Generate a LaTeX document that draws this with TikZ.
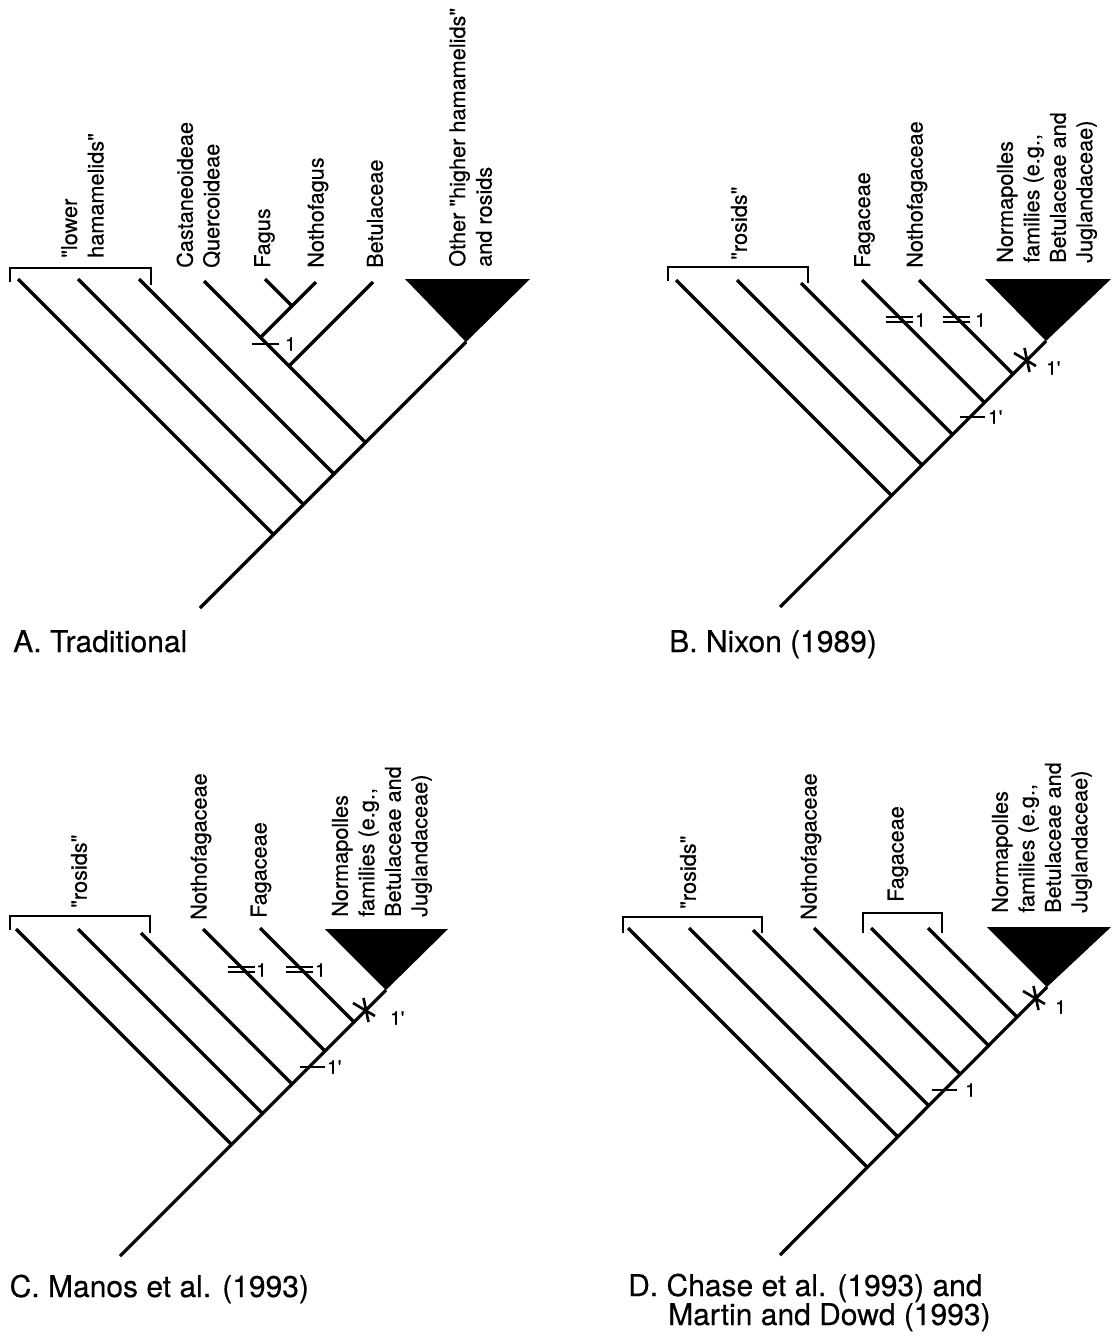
\documentclass[tikz,border=0pt]{standalone}
\usepackage{fontspec}
\setmainfont{TeX Gyre Heros}[Ligatures=TeXOff, FakeBold=0.35]
\newcommand\rsTax{\fontsize{21.7}{26.5}\selectfont}
\newcommand\rsNum{\fontsize{19}{21}\selectfont}
\newcommand\rsTitle{\fontsize{30}{34}\selectfont}
\begin{document}
\begin{tikzpicture}[x=1pt,y=-1pt,
  branch/.style={line width=3.2pt},
  brk/.style={line width=2.8pt},
  tickln/.style={line width=2.3pt},
  taxon/.style={rotate=90, anchor=west, inner sep=0pt, font=\rsTax, align=left},
  num/.style={anchor=west, inner sep=0pt, font=\rsNum},
  title/.style={anchor=base west, inner sep=0pt, font=\rsTitle},
  clade/.style={fill=black},
  asterisk/.pic={\draw[line width=2.6pt] (-13,-7) -- (9,6); \draw[line width=2.6pt] (-2.5,-12) -- (2.5,12);},
  dbar/.pic={\draw[line width=2.1pt] (-16,-2.6) -- (11,-2.6); \draw[line width=2.1pt] (-16,2.6) -- (11,2.6);}
]
\fill[white] (0,0) rectangle (1117,1336);
\useasboundingbox (0,0) rectangle (1117,1336);

% ================= Panel A =================
\coordinate (A-root) at (200,608);
\coordinate (A-apex) at (466,342);
\coordinate (A-t1) at (18,279);   \coordinate (A-j1) at (273.5,534.5);
\coordinate (A-t2) at (78,279);   \coordinate (A-j2) at (303.5,504.5);
\coordinate (A-t3) at (139,279);  \coordinate (A-j3) at (334,474);
\coordinate (A-tc) at (204,281);  \coordinate (A-jc) at (365.5,442.5);
\coordinate (A-tb) at (373,282);  \coordinate (A-jb) at (289,366);
\coordinate (A-tn) at (316,282);  \coordinate (A-jn) at (260.5,337.5);
\coordinate (A-tf) at (265,279);  \coordinate (A-jf) at (292,306);
\coordinate (A-tl) at (405,279);  \coordinate (A-tr) at (530,279);
\fill[clade] (A-tl) -- (A-tr) -- (A-apex) -- cycle;
\draw[branch] (A-root) -- (A-apex);
\draw[branch] (A-t1) -- (A-j1);
\draw[branch] (A-t2) -- (A-j2);
\draw[branch] (A-t3) -- (A-j3);
\draw[branch] (A-tc) -- (A-jc);
\draw[branch] (A-tb) -- (A-jb);
\draw[branch] (A-tn) -- (A-jn);
\draw[branch] (A-tf) -- (A-jf);
\coordinate (A-bl) at (10,282); \coordinate (A-br) at (151,285);
\draw[brk] (A-bl) -- (10,268) -- (151,268) -- (A-br);
\coordinate (A-tk) at (267,344);
\draw[tickln] ([xshift=-15pt]A-tk) -- ([xshift=12pt]A-tk);
\node[num] (A-n1) at (285,344) {1};
\node[taxon] (A-low) at (82.5,258) {"lower\\hamamelids"};
\node[taxon] (A-cas) at (198.5,268) {Castaneoideae\\Quercoideae};
\node[taxon] (A-fag) at (264.5,268) {Fagus};
\node[taxon] (A-not) at (318,268) {Nothofagus};
\node[taxon] (A-bet) at (375,268) {Betulaceae};
\node[taxon] (A-oth) at (470.5,267) {Other "higher hamamelids"\\and rosids};
\node[title] (A-title) at (13,652) {A. Traditional};

% ================= Panel B =================
\coordinate (B-root) at (780,607);
\coordinate (B-apex) at (1046,341);
\coordinate (B-t1) at (676,280);  \coordinate (B-j1) at (891.5,495.5);
\coordinate (B-t2) at (737,280);  \coordinate (B-j2) at (922,465);
\coordinate (B-t3) at (801,283);  \coordinate (B-j3) at (952.5,434.5);
\coordinate (B-tf) at (862,280);  \coordinate (B-jf) at (984.5,402.5);
\coordinate (B-tn) at (919,280);  \coordinate (B-jn) at (1013,374);
\coordinate (B-tl) at (985,279);  \coordinate (B-tr) at (1111,279);
\fill[clade] (B-tl) -- (B-tr) -- (B-apex) -- cycle;
\draw[branch] (B-root) -- (B-apex);
\draw[branch] (B-t1) -- (B-j1);
\draw[branch] (B-t2) -- (B-j2);
\draw[branch] (B-t3) -- (B-j3);
\draw[branch] (B-tf) -- (B-jf);
\draw[branch] (B-tn) -- (B-jn);
\coordinate (B-bl) at (668,281); \coordinate (B-br) at (808,283);
\draw[brk] (B-bl) -- (668,267) -- (808,267) -- (B-br);
\coordinate (B-df) at (901.5,319.5);
\coordinate (B-dn) at (958.5,319.5);
\pic at (B-df) {dbar};
\pic at (B-dn) {dbar};
\node[num] (B-n1) at (915,320) {1};
\node[num] (B-n2) at (975,320) {1};
\coordinate (B-ast) at (1027,360);
\pic at (B-ast) {asterisk};
\node[num] (B-n3) at (1046,368) {1'};
\coordinate (B-tk) at (970,417);
\draw[tickln] ([xshift=-10pt]B-tk) -- ([xshift=15pt]B-tk);
\node[num] (B-n4) at (988,417) {1'};
\node[taxon] (B-ros) at (739,260) {"rosids"};
\node[taxon] (B-fag) at (864.5,268) {Fagaceae};
\node[taxon] (B-not) at (917,268) {Nothofagaceae};
\node[taxon] (B-nor) at (1047,263) {Normapolles\\families (e.g.,\\Betulaceae and\\Juglandaceae)};
\node[title] (B-title) at (669,652) {B. Nixon (1989)};

% ================= Panel C =================
\coordinate (C-root) at (120,1256);
\coordinate (C-apex) at (386,990);
\coordinate (C-t1) at (16,929);   \coordinate (C-j1) at (231.5,1144.5);
\coordinate (C-t2) at (78,929);   \coordinate (C-j2) at (262.5,1113.5);
\coordinate (C-t3) at (141,933);  \coordinate (C-j3) at (292,1084);
\coordinate (C-tn) at (203,929);  \coordinate (C-jn) at (325,1051);
\coordinate (C-tf) at (260,928);  \coordinate (C-jf) at (354,1022);
\coordinate (C-tl) at (325,929);  \coordinate (C-tr) at (448,929);
\fill[clade] (C-tl) -- (C-tr) -- (C-apex) -- cycle;
\draw[branch] (C-root) -- (C-apex);
\draw[branch] (C-t1) -- (C-j1);
\draw[branch] (C-t2) -- (C-j2);
\draw[branch] (C-t3) -- (C-j3);
\draw[branch] (C-tn) -- (C-jn);
\draw[branch] (C-tf) -- (C-jf);
\coordinate (C-bl) at (10,930); \coordinate (C-br) at (150,933);
\draw[brk] (C-bl) -- (10,916) -- (150,916) -- (C-br);
\coordinate (C-dn) at (243.5,969.5);
\coordinate (C-df) at (301.5,969.5);
\pic at (C-dn) {dbar};
\pic at (C-df) {dbar};
\node[num] (C-n1) at (256,970) {1};
\node[num] (C-n2) at (315,970) {1};
\coordinate (C-ast) at (366,1010);
\pic at (C-ast) {asterisk};
\node[num] (C-n3) at (390,1018) {1'};
\coordinate (C-tk) at (309,1067);
\draw[tickln] ([xshift=-9pt]C-tk) -- ([xshift=16pt]C-tk);
\node[num] (C-n4) at (327,1067) {1'};
\node[taxon] (C-ros) at (79,908) {"rosids"};
\node[taxon] (C-not) at (201,920) {Nothofagaceae};
\node[taxon] (C-fag) at (261,918) {Fagaceae};
\node[taxon] (C-nor) at (382,917) {Normapolles\\families (e.g.,\\Betulaceae and\\Juglandaceae)};
\node[title] (C-title) at (9.5,1297) {C. Manos et al. (1993)};

% ================= Panel D =================
\coordinate (D-root) at (780,1255);
\coordinate (D-apex) at (1047,987);
\coordinate (D-t1) at (628,928);   \coordinate (D-j1) at (867,1167);
\coordinate (D-t2) at (689,928);   \coordinate (D-j2) at (897.5,1136.5);
\coordinate (D-t3) at (753,930);   \coordinate (D-j3) at (928.5,1105.5);
\coordinate (D-tn) at (814,928);   \coordinate (D-jn) at (960,1074);
\coordinate (D-tf1) at (871,928);  \coordinate (D-jf1) at (988.5,1045.5);
\coordinate (D-tf2) at (928,928);  \coordinate (D-jf2) at (1017,1017);
\coordinate (D-tl) at (987,927);   \coordinate (D-tr) at (1111,927);
\fill[clade] (D-tl) -- (D-tr) -- (D-apex) -- cycle;
\draw[branch] (D-root) -- (D-apex);
\draw[branch] (D-t1) -- (D-j1);
\draw[branch] (D-t2) -- (D-j2);
\draw[branch] (D-t3) -- (D-j3);
\draw[branch] (D-tn) -- (D-jn);
\draw[branch] (D-tf1) -- (D-jf1);
\draw[branch] (D-tf2) -- (D-jf2);
\coordinate (D-bl) at (623,933); \coordinate (D-br) at (762,933);
\draw[brk] (D-bl) -- (623,917) -- (762,917) -- (D-br);
\coordinate (D-fl) at (863,933); \coordinate (D-fr) at (942,933);
\draw[brk] (D-fl) -- (863,913) -- (942,913) -- (D-fr);
\coordinate (D-ast) at (1036,998);
\pic at (D-ast) {asterisk};
\node[num] (D-n1) at (1055,1007) {1};
\coordinate (D-tk) at (944,1090);
\draw[tickln] ([xshift=-12pt]D-tk) -- ([xshift=13pt]D-tk);
\node[num] (D-n2) at (965,1090) {1};
\node[taxon] (D-ros) at (688,909) {"rosids"};
\node[taxon] (D-not) at (811,920) {Nothofagaceae};
\node[taxon] (D-fag) at (898,902) {Fagaceae};
\node[taxon] (D-nor) at (1042,913) {Normapolles\\families (e.g.,\\Betulaceae and\\Juglandaceae)};
\node[title] (D-title1) at (628,1296) {D. Chase et al. (1993) and};
\node[title] (D-title2) at (668,1325) {Martin and Dowd (1993)};
\end{tikzpicture}
\end{document}
